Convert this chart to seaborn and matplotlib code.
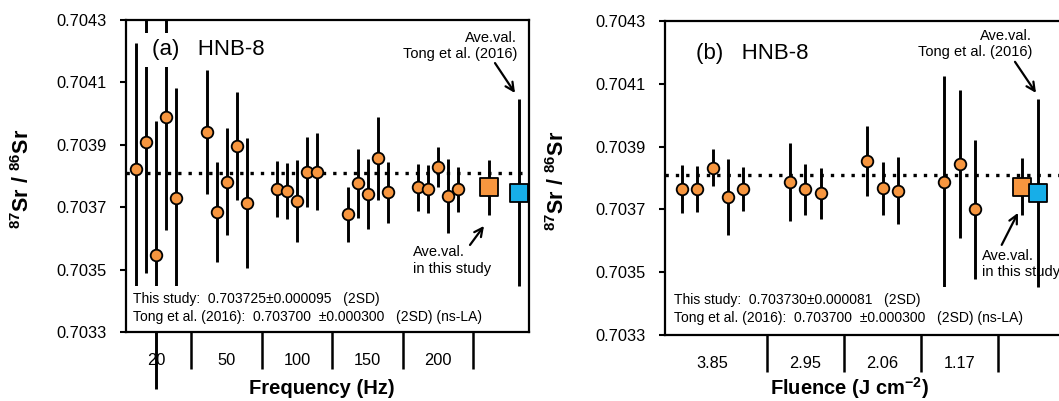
import matplotlib
matplotlib.use("Agg")
import matplotlib.pyplot as plt
import seaborn as sns
import pandas as pd
from matplotlib.patches import Rectangle

# ---------------- data ----------------
freq_groups = ["20", "50", "100", "150", "200"]
freq_counts = [5, 5, 5, 5, 5]
freq_vals = [0.703822, 0.703908, 0.703547, 0.703989, 0.703730,
             0.703941, 0.703684, 0.703782, 0.703897, 0.703714,
             0.703757, 0.703753, 0.703720, 0.703814, 0.703814,
             0.703677, 0.703777, 0.703742, 0.703857, 0.703748,
             0.703764, 0.703758, 0.703828, 0.703736, 0.703758]
freq_errs = [0.000404, 0.000420, 0.000430, 0.000362, 0.000352,
             0.000200, 0.000160, 0.000172, 0.000173, 0.000208,
             0.000090, 0.000090, 0.000131, 0.000112, 0.000124,
             0.000088, 0.000111, 0.000112, 0.000133, 0.000098,
             0.000075, 0.000078, 0.000064, 0.000120, 0.000072]
freq_ave = [0.703764, 0.000088]
freq_tong = [0.703746, 0.000300]

flu_groups = ["3.85", "2.95", "2.06", "1.17"]
flu_counts = [5, 3, 3, 3]
flu_vals = [0.703764, 0.703764, 0.703833, 0.703740, 0.703764,
            0.703786, 0.703764, 0.703751,
            0.703855, 0.703767, 0.703759,
            0.703786, 0.703845, 0.703700]
flu_errs = [0.000076, 0.000073, 0.000060, 0.000120, 0.000070,
            0.000124, 0.000081, 0.000080,
            0.000112, 0.000084, 0.000107,
            0.000340, 0.000235, 0.000221]
flu_ave = [0.703772, 0.000091]
flu_tong = [0.703752, 0.000300]

ref_value = 0.70381
yticks = [0.7033, 0.7035, 0.7037, 0.7039, 0.7041, 0.7043]

text_a = ["This study:  0.703725\u00b10.000095   (2SD)",
          "Tong et al. (2016):  0.703700  \u00b10.000300   (2SD) (ns-LA)"]
text_b = ["This study:  0.703730\u00b10.000081   (2SD)",
          "Tong et al. (2016):  0.703700  \u00b10.000300   (2SD) (ns-LA)"]

# ---------------- style ----------------
sns.set_style("white")
plt.rcParams["font.family"] = ["Liberation Sans", "DejaVu Sans"]
plt.rcParams["mathtext.fontset"] = "custom"
plt.rcParams["mathtext.rm"] = "Liberation Sans:bold"
plt.rcParams["mathtext.it"] = "Liberation Sans:bold"
plt.rcParams["mathtext.bf"] = "Liberation Sans:bold"
for k in ["text.color", "axes.labelcolor", "xtick.color", "ytick.color"]:
    plt.rcParams[k] = "black"

ORANGE = "#F7963F"
BLUE = "#17AEE8"


def layout(counts, start, step, gap):
    pos, spans = [], []
    x = start
    for n in counts:
        grp = [x + i * step for i in range(n)]
        pos.extend(grp)
        spans.append((grp[0], grp[-1]))
        x = grp[-1] + gap
    return pos, spans, x


def draw_panel(ax, groups, counts, vals, errs, ave, tong, start, step, gap,
               tong_off, xmax, clip_top_only=False):
    xs, spans, ave_x = layout(counts, start, step, gap)
    tong_x = ave_x + tong_off
    df = pd.DataFrame({"x": xs, "v": vals, "e": errs})

    eb = ax.errorbar(df["x"], df["v"], yerr=df["e"], fmt="none",
                     ecolor="black", elinewidth=2.1, capsize=0, zorder=2)
    eb2 = ax.errorbar([ave_x, tong_x], [ave[0], tong[0]], yerr=[ave[1], tong[1]],
                      fmt="none", ecolor="black", elinewidth=2.1, capsize=0, zorder=2)
    if clip_top_only:
        for col in list(eb[2]) + list(eb2[2]):
            col.set_clip_path(Rectangle((0, -1), 1, 2, transform=ax.transAxes))

    ax.axhline(ref_value, color="black", lw=2.4, linestyle=(0, (1, 2.1)), zorder=1.5)

    sns.scatterplot(data=df, x="x", y="v", ax=ax, color=ORANGE, edgecolor="black",
                    linewidth=1.3, s=70, zorder=3, legend=False)
    sns.scatterplot(x=[ave_x], y=[ave[0]], ax=ax, marker="s", color=ORANGE,
                    edgecolor="black", linewidth=1.3, s=150, zorder=3, legend=False)
    sns.scatterplot(x=[tong_x], y=[tong[0]], ax=ax, marker="s", color=BLUE,
                    edgecolor="black", linewidth=1.3, s=150, zorder=3.1, legend=False)

    ax.set_xlim(0, xmax)
    ax.set_ylim(0.7033, 0.7043)
    ax.set_yticks(yticks)
    ax.set_yticklabels([f"{t:.4f}" for t in yticks])
    ax.set_xticks([])
    ax.tick_params(axis="y", which="both", left=True, direction="out", length=4,
                   width=1.5, pad=10, labelsize=11.8, colors="black")
    for s in ax.spines.values():
        s.set_linewidth(1.6)
        s.set_color("black")
        s.set_zorder(5)
    ax.set_xlabel("")
    ax.set_ylabel("")

    # group separators and labels
    seps = [(spans[i][1] + spans[i + 1][0]) / 2 for i in range(len(spans) - 1)]
    seps.append((spans[-1][1] + ave_x) / 2)
    trans = ax.get_xaxis_transform()
    ax.vlines(seps, -0.118, 0, transform=trans, color="black", lw=1.8, clip_on=False)
    for g, (a, b) in zip(groups, spans):
        ax.text((a + b) / 2, -0.09, g, transform=trans, ha="center", va="center",
                fontsize=11.8)
    return ave_x, tong_x


fig = plt.figure(figsize=(10.59, 4.01), dpi=100)
W, H = 1059, 401
axA = fig.add_axes([126 / W, 1 - 332 / H, 403 / W, 312 / H])
axB = fig.add_axes([665 / W, 1 - 335 / H, 400 / W, 314 / H])

draw_panel(axA, freq_groups, freq_counts, freq_vals, freq_errs, freq_ave, freq_tong,
           start=1.0, step=1.0, gap=3.05, tong_off=3.07, xmax=40.3, clip_top_only=True)
draw_panel(axB, flu_groups, flu_counts, flu_vals, flu_errs, flu_ave, flu_tong,
           start=1.67, step=1.54, gap=4.65, tong_off=1.62, xmax=40.0)

ylab = r"$^{87}$Sr / $^{86}$Sr"
for ax, lx, ly, xl, xlx, xly, txt, box_top, tx, ty1, ty2, tag, tagx, tagy in [
        (axA, -0.228, 0.49, "Frequency (Hz)", 0.487, -0.15, text_a, 0.147, 0.017, 0.106, 0.048,
         "(a)   HNB-8", 0.064, 0.904),
        (axB, -0.24, 0.49, r"Fluence (J cm$^{-2}$)", 0.46, -0.128, text_b, 0.153, 0.0225, 0.111, 0.054,
         "(b)   HNB-8", 0.0775, 0.898)]:
    ax.set_ylabel(ylab, fontsize=15.5, fontweight="bold")
    ax.yaxis.set_label_coords(lx, ly)
    ax.set_xlabel(xl, fontsize=14.5, fontweight="bold")
    ax.xaxis.set_label_coords(xlx, xly)
    ax.add_patch(Rectangle((0.004, 0.004), 0.9, box_top - 0.004, transform=ax.transAxes,
                           facecolor="white", edgecolor="none", zorder=3.5))
    ax.text(tx, ty1, txt[0], transform=ax.transAxes, fontsize=10, va="center", zorder=4)
    ax.text(tx, ty2, txt[1], transform=ax.transAxes, fontsize=10, va="center", zorder=4)
    ax.text(tagx, tagy, tag, transform=ax.transAxes, fontsize=16, va="center", ha="left",
            zorder=4, bbox=dict(facecolor="white", edgecolor="none", pad=5))

arrow = dict(arrowstyle="->", lw=1.6, color="black", shrinkA=0, shrinkB=0,
             mutation_scale=15)
# panel a annotations
axA.text(39.1, 0.704217, "Ave.val.\nTong et al. (2016)", ha="right", va="center",
         multialignment="right", fontsize=10.5, zorder=4)
axA.annotate("", xy=(38.9, 0.704066), xytext=(36.9, 0.704162), arrowprops=arrow, zorder=4)
axA.text(28.7, 0.703529, "Ave.val.\nin this study", ha="left", va="center",
         multialignment="left", fontsize=10.5, zorder=4)
axA.annotate("", xy=(35.8, 0.70364), xytext=(34.4, 0.703579), arrowprops=arrow, zorder=4)
# panel b annotations
axB.text(36.7, 0.704228, "Ave.val.\nTong et al. (2016)", ha="right", va="center",
         multialignment="right", fontsize=10.5, zorder=4)
axB.annotate("", xy=(37.1, 0.704071), xytext=(35.0, 0.70417), arrowprops=arrow, zorder=4)
axB.text(31.67, 0.703525, "Ave.val.\nin this study", ha="left", va="center",
         multialignment="left", fontsize=10.5, zorder=4.5)
axB.annotate("", xy=(35.3, 0.703689), xytext=(33.67, 0.703587), arrowprops=arrow, zorder=4)

fig.savefig("out.png", dpi=100)
